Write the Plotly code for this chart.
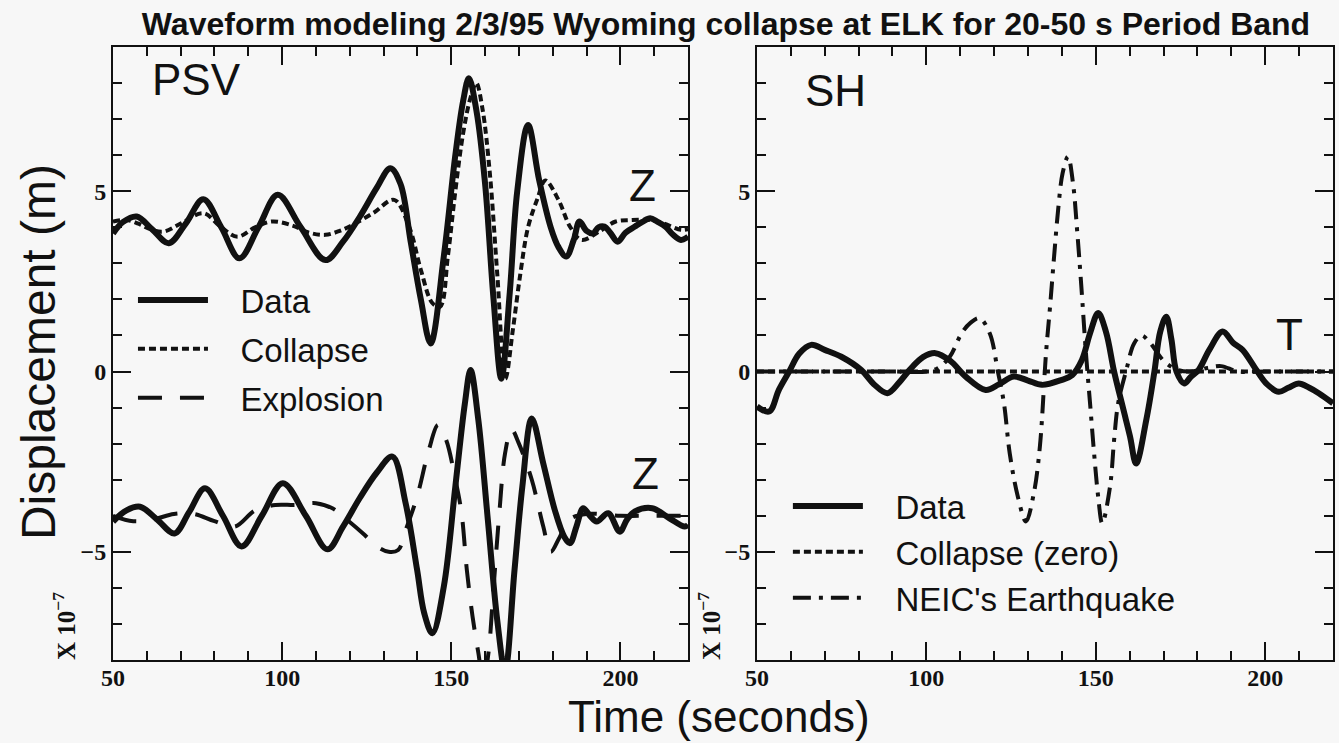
import plotly.graph_objects as go

# ---------------- data (displacement in units of 1e-7 m) ----------------
# PSV, upper trace: observed data (Z, offset +4)
psv_up_data_t = [50, 53, 57, 61.5, 66.5, 71.5, 76.7, 82, 87.4, 93, 98.7, 105.5, 112.8, 118, 123, 128,
                 132, 135, 138, 141, 143.9, 147.8, 151.2, 153.5, 155.2, 157.5, 160, 162.5, 164.8, 167.3,
                 169.5, 172.7, 176, 179.4, 181.7, 184, 186.2, 187.9, 190, 191.9, 193.5, 195.3, 197, 199.2,
                 201.5, 204.3, 206.5, 208.8, 211, 213.3, 215.5, 217.9, 220]
psv_up_data_v = [3.83, 4.15, 4.30, 3.95, 3.56, 4.1, 4.78, 4.0, 3.14, 4.0, 4.90, 4.0, 3.09, 3.6, 4.3, 5.1,
                 5.64, 5.2, 3.6, 2.0, 0.78, 3.2, 6.0, 7.5, 8.13, 7.2, 5.2, 2.0, -0.2, 2.2,
                 5.0, 6.84, 5.3, 4.0, 3.45, 3.19, 3.65, 4.16, 3.9, 3.83, 4.0, 4.02, 3.85, 3.60,
                 3.85, 4.02, 4.15, 4.25, 4.15, 4.02, 3.8, 3.65, 3.74]

# PSV, upper trace: collapse synthetic
psv_collapse_t = [50, 54, 57.5, 61, 64.8, 70, 76.7, 82, 86.8, 92, 97, 103, 108, 112.8, 117, 120.7, 127,
                  133.1, 137.6, 141, 144.4, 146.7, 149, 151.2, 153.5, 155.7, 157.4, 159.2, 161.4, 163.6,
                  166, 168.2, 170.4, 172.7, 175.5, 177.8, 181.7, 185.1, 188.5, 194, 198.6, 203, 208.8,
                  213, 217.9, 220]
psv_collapse_v = [4.16, 4.2, 4.1, 3.95, 3.88, 4.1, 4.39, 4.0, 3.74, 4.0, 4.16, 4.05, 3.85, 3.79, 3.9, 4.06, 4.4,
                  4.76, 4.0, 2.82, 1.9, 1.8, 3.2, 5.0, 6.6, 7.6, 8.0, 7.3, 5.5, 2.7,
                  -0.2, 1.15, 2.7, 4.0, 4.8, 5.3, 4.76, 4.02, 3.65, 3.9, 4.16, 4.2, 4.2,
                  4.1, 3.93, 3.95]

# PSV, lower trace: observed data (Z, offset -4)
psv_low_data_t = [50, 54, 58, 63, 68.2, 72.5, 77.2, 82.5, 88, 94, 100.2, 107, 113.4, 118, 123, 128,
                  132.6, 136.5, 139.9, 142, 144.4, 147.8, 151.2, 154, 155.7, 158, 160.8, 163.6, 165.9,
                  168.7, 171, 173.8, 177.2, 180.6, 183.4, 185.1, 187, 189, 191, 193, 196.4, 199.8,
                  202, 204.3, 209.4, 214.5, 219, 220]
psv_low_data_v = [-4.16, -3.85, -3.75, -4.1, -4.49, -3.9, -3.24, -4.0, -4.85, -4.0, -3.10, -4.0, -4.93, -4.3, -3.5, -2.8,
                  -2.36, -3.65, -5.5, -6.7, -7.26, -5.96, -3.19, -0.9, 0.04, -1.34, -4.1, -6.9, -8.3,
                  -5.5, -3.2, -1.3, -2.55, -3.84, -4.58, -4.76, -4.3, -3.79, -4.0, -4.16, -3.93, -4.44,
                  -4.1, -3.88, -3.79, -4.07, -4.30, -4.25]

# PSV, lower trace: explosion synthetic
psv_explosion_t = [50, 56, 62, 68, 74, 80, 86, 92, 98, 104, 110, 115, 119, 124, 128, 131.5, 134.3, 136.5,
                   139.9, 143.3, 146.1, 148.5, 151, 153, 154.6, 156.3, 158, 159.5, 161, 162.5, 164.2,
                   165.9, 167.8, 170, 173.8, 177.2, 179.4, 182, 185, 190, 200, 210, 220]
psv_explosion_v = [-4.0, -4.15, -4.1, -3.95, -3.95, -4.15, -4.3, -3.85, -3.7, -3.7, -3.65, -3.8, -4.1, -4.5,
                   -4.85, -5.0, -4.95, -4.4, -3.47, -2.2, -1.48, -1.9, -2.9, -3.9, -5.5, -6.8, -7.8, -8.6,
                   -7.8, -6.0, -3.93, -2.27, -1.6, -2.0, -3.0, -4.3, -5.0, -4.6, -4.1, -3.95, -4.0, -4.0,
                   -4.0]

# SH (T component): observed data
sh_data_t = [50, 53.6, 56.5, 59.5, 62.5, 66, 70, 74.9, 80.8, 84.5, 88.5, 92, 95, 99, 102.7, 107, 111.6,
             117.5, 121.5, 125.8, 130, 134.1, 140, 143, 145.9, 148.3, 150.7, 153, 155.4, 158, 160.1,
             161.9, 164.9, 167.3, 169, 170.8, 172.3, 173.8, 176.1, 178, 180.3, 183.5, 187.4, 190.5,
             193.3, 197.4, 200.5, 204, 206.8, 209.9, 213, 215.8, 220]
sh_data_v = [-0.97, -1.11, -0.5, 0.0, 0.5, 0.74, 0.6, 0.41, 0.04, -0.35, -0.60, -0.3, 0.04, 0.4, 0.51, 0.3, -0.14,
             -0.51, -0.35, -0.14, -0.25, -0.37, -0.23, -0.1, 0.32, 1.06, 1.62, 1.1, 0.0, -1.0, -1.8,
             -2.55, -1.34, 0.0, 1.1, 1.52, 0.9, 0.0, -0.33, -0.15, 0.04, 0.6, 1.11, 0.8,
             0.60, 0.04, -0.35, -0.56, -0.45, -0.33, -0.45, -0.60, -0.88]

# SH: collapse synthetic (zero)
sh_collapse_t = [50, 220]
sh_collapse_v = [0.0, 0.0]

# SH: NEIC earthquake synthetic
sh_neic_t = [50, 70, 90, 100, 103.5, 106.9, 110.4, 113, 115.7, 118.7, 121.1, 122.9, 124.6, 127, 129.4,
             131.7, 133.5, 135.3, 136.5, 137.7, 138.9, 140.2, 141.8, 143.3, 144.5, 145.7, 147.1, 148.3,
             149.5, 150.7, 151.9, 154.2, 155.4, 156.6, 159, 161.3, 163.5, 166, 170, 174, 178, 183,
             187, 192, 200, 210, 220]
sh_neic_v = [0.0, 0.0, 0.0, 0.0, 0.1, 0.41, 1.06, 1.35, 1.48, 1.06, 0.0, -0.88, -2.27, -3.47, -4.16,
             -3.38, -2.08, 0.5, 1.8, 3.2, 4.5, 5.5, 5.96, 5.2, 3.9, 2.4, 0.5, -0.88,
             -2.27, -3.47, -4.21, -3.19, -1.9, -0.88, 0.04, 0.78, 1.0, 0.8, 0.3, 0.05, 0.0, 0.1,
             0.15, 0.0, 0.0, 0.0, 0.0]

x_tickvals = [50, 100, 150, 200]
y_tickvals = [-5, 0, 5]
y_ticktext = ["\u22125", "0", "5"]

# ---------------- styling ----------------
BG = "#f7f7f7"
INK = "#111111"
SANS = "Liberation Sans, Arial, sans-serif"
SERIF = "Liberation Serif, Times New Roman, serif"

DATA_W = 6
DOT = "7px,4px"
DASH = "24px,18px"
DASHDOT = "18px,8px,4px,8px"
PAD = "\u00a0\u00a0\u00a0"  # gap between legend sample and label

fig = go.Figure()

def add(t, v, xa, ya, name, width, dash, legend, show, group):
    fig.add_trace(go.Scatter(
        x=t, y=v, xaxis=xa, yaxis=ya, mode="lines", name=PAD + name,
        line=dict(color=INK, width=width, dash=dash, shape="spline", smoothing=1.0),
        legend=legend, legendgroup=group, showlegend=show, hoverinfo="skip"))

add(psv_up_data_t, psv_up_data_v, "x", "y", "Data", DATA_W, "solid", "legend", True, "a1")
add(psv_collapse_t, psv_collapse_v, "x", "y", "Collapse", 4, DOT, "legend", True, "a2")
add(psv_low_data_t, psv_low_data_v, "x", "y", "Data", DATA_W, "solid", "legend", False, "a1")
add(psv_explosion_t, psv_explosion_v, "x", "y", "Explosion", 4, DASH, "legend", True, "a3")

add(sh_data_t, sh_data_v, "x2", "y2", "Data", DATA_W, "solid", "legend2", True, "b1")
add(sh_collapse_t, sh_collapse_v, "x2", "y2", "Collapse (zero)", 4, DOT, "legend2", True, "b2")
add(sh_neic_t, sh_neic_v, "x2", "y2", "NEIC's Earthquake", 4, DASHDOT, "legend2", True, "b3")

tickfont = dict(family=SERIF, size=24, color=INK, weight="bold")

def xax(domain):
    return dict(domain=domain, range=[50, 220], tickmode="array", tickvals=x_tickvals,
                ticks="inside", ticklen=18, tickwidth=2, tickcolor=INK, ticklabelstandoff=-5,
                minor=dict(dtick=10, tick0=50, ticks="inside", ticklen=9, tickwidth=2, tickcolor=INK),
                showline=True, linewidth=2, linecolor=INK, mirror="allticks",
                showgrid=False, zeroline=False, tickfont=tickfont, fixedrange=True)

def yax(anchor):
    return dict(anchor=anchor, range=[-8, 9], tickmode="array", tickvals=y_tickvals, ticktext=y_ticktext,
                ticks="inside", ticklen=18, tickwidth=2, tickcolor=INK,
                minor=dict(dtick=1, tick0=0, ticks="inside", ticklen=9, tickwidth=2, tickcolor=INK),
                showline=True, linewidth=2, linecolor=INK, mirror="allticks",
                showgrid=False, zeroline=False, tickfont=tickfont, fixedrange=True)

L, R, T, B = 113, 4, 47, 83
W, H = 1339, 743
PW, PH = W - L - R, H - T - B

def px(xp):
    return (xp - L) / PW

def py(yp):
    return (H - B - yp) / PH

xa1 = xax([0, px(689)])
xa1["anchor"] = "y"
xa2 = xax([px(758), 1])
xa2["anchor"] = "y2"

def label(text, x, y, xref, yref, size, family=SANS, angle=0, weight="normal"):
    return dict(text=text, x=x, y=y, xref=xref, yref=yref, showarrow=False,
                xanchor="center", yanchor="middle", textangle=angle,
                font=dict(family=family, size=size, color=INK, weight=weight))

annotations = [
    label("PSV", 74.8, 8.11, "x", "y", 44),
    label("Z", 206.6, 5.15, "x", "y", 44),
    label("Z", 207.5, -2.83, "x", "y", 44),
    label("SH", 73.3, 7.79, "x2", "y2", 44),
    label("T", 207.3, 1.03, "x2", "y2", 44),
    label("Displacement (m)", px(38), py(352), "paper", "paper", 48, angle=-90),
    label("Time (seconds)", px(720), py(716), "paper", "paper", 44),
    label("X 10<sup>\u22127</sup>", px(64), py(626), "paper", "paper", 25, family=SERIF, angle=-90, weight="bold"),
    label("X 10<sup>\u22127</sup>", px(710), py(626), "paper", "paper", 25, family=SERIF, angle=-90, weight="bold"),
]

legfont = dict(family=SANS, size=33, color=INK)

fig.update_layout(
    width=W, height=H,
    margin=dict(l=L, r=R, t=T, b=B),
    paper_bgcolor=BG, plot_bgcolor=BG,
    title=dict(text="<b>Waveform modeling 2/3/95 Wyoming collapse at ELK for 20-50 s Period Band</b>",
               x=726 / W, xref="container", xanchor="center",
               y=1 - 24 / H, yref="container", yanchor="middle",
               font=dict(family=SANS, size=32, color=INK)),
    xaxis=xa1, yaxis=yax("x"),
    xaxis2=xa2, yaxis2=yax("x2"),
    legend=dict(x=px(133), y=py(272), xanchor="left", yanchor="top", bgcolor="rgba(0,0,0,0)",
                font=legfont, itemwidth=70, tracegroupgap=3, borderwidth=0, traceorder="grouped"),
    legend2=dict(x=px(789), y=py(478), xanchor="left", yanchor="top", bgcolor="rgba(0,0,0,0)",
                 font=legfont, itemwidth=70, tracegroupgap=0, borderwidth=0, traceorder="grouped"),
    annotations=annotations,
    showlegend=True,
)

fig.write_html(
    "out.html",
    config={"displayModeBar": False},
    post_script="document.body.style.margin='0';document.body.style.background='" + BG + "';",
)
